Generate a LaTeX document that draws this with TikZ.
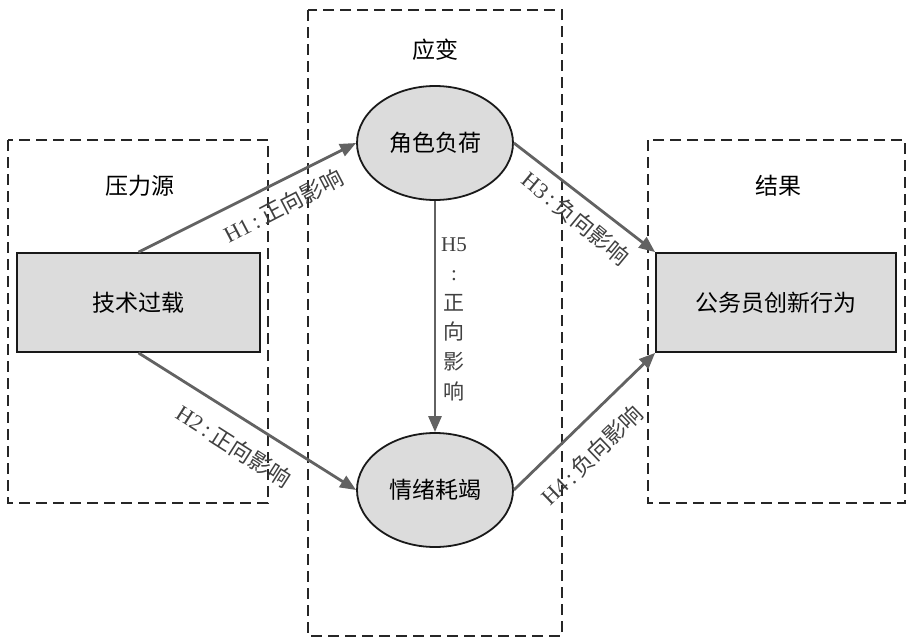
\documentclass[tikz,border=0pt]{standalone}
\usepackage{fontspec}
\setmainfont{Liberation Serif}
\newfontfamily\cjk{Noto Sans CJK SC}
\usetikzlibrary{arrows.meta,shapes.geometric}
\definecolor{boxfill}{HTML}{DCDCDC}
\definecolor{arrowgray}{HTML}{626262}
\tikzset{
  groupbox/.style={draw=black!85, line width=2.1pt, dash pattern=on 11pt off 6pt},
  rectnode/.style={draw=black!90, line width=1.8pt, fill=boxfill, minimum width=243pt, minimum height=99pt, font=\cjk\fontsize{23}{26}\selectfont, inner sep=0pt},
  ellnode/.style={ellipse, draw=black!90, line width=1.8pt, fill=boxfill, minimum width=156pt, minimum height=114pt, font=\cjk\fontsize{23}{26}\selectfont, inner sep=0pt},
  grouptitle/.style={font=\cjk\fontsize{23}{26}\selectfont, inner sep=0pt},
  conn/.style={draw=arrowgray, line width=2.8pt, -{Triangle[length=16pt,width=13pt]}},
  elabel/.style={text=black!75, font=\fontsize{22.5}{26}\selectfont, inner sep=0pt}
}
\begin{document}
\begin{tikzpicture}[x=1pt,y=-1pt]
\useasboundingbox (0,0) rectangle (914,640);
% group boxes
\draw[groupbox] (8,140) rectangle (268,503);
\draw[groupbox] (308,10) rectangle (562,636);
\draw[groupbox] (648,140) rectangle (905,503);
\node[grouptitle] (t1) at (140,186) {压力源};
\node[grouptitle] (t2) at (435,50) {应变};
\node[grouptitle] (t3) at (778,186) {结果};
% nodes
\node[rectnode] (tech) at (138.5,302.5) {技术过载};
\node[rectnode, minimum width=240pt] (inno) at (776,302.5) {公务员创新行为};
\node[ellnode] (role) at (435,143) {角色负荷};
\node[ellnode] (emo) at (435,490) {情绪耗竭};
% connectors
\draw[conn] (tech.north) -- (role.west);
\draw[conn] (tech.south) -- (emo.west);
\draw[conn] (role.east) -- (inno.north west);
\draw[conn] (emo.east) -- (inno.south west);
\draw[conn] (role.south) -- (emo.north);
% labels
\node[elabel, rotate=27.5] (l1) at (283,206) {H1\,:\,{\cjk 正向影响}};
\node[elabel, rotate=-32.5] (l2) at (234,446) {H2\,:\,{\cjk 正向影响}};
\node[elabel, rotate=-39.5] (l3) at (576,218) {H3\,:\,{\cjk 负向影响}};
\node[elabel, rotate=44] (l4) at (592,455) {H4\,:\,{\cjk 负向影响}};
\node[elabel, align=center, font=\fontsize{21}{29.6}\selectfont] (l5) at (454,319) {H5\\:\\{\cjk 正}\\{\cjk 向}\\{\cjk 影}\\{\cjk 响}};
\end{tikzpicture}
\end{document}
